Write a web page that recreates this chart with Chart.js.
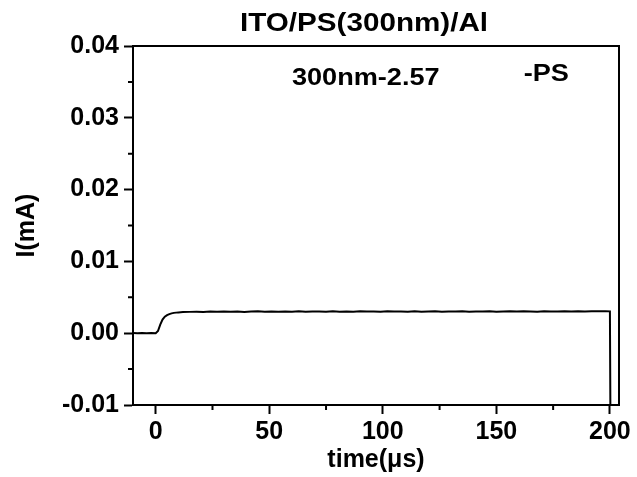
<!DOCTYPE html>
<html>
<head>
<meta charset="utf-8">
<script src="https://cdn.jsdelivr.net/npm/chart.js@4/dist/chart.umd.min.js"></script>
<style>
	html, body { margin: 0; padding: 0; background: #fff; }
	#wrap { width: 637px; height: 477px; }
</style>
</head>
<body>
<div id="wrap"><canvas id="ivChart" width="637" height="477"></canvas></div>
<script>
// time (us)
var timeData = [-10, -8, -6, -4, -2, 0, 1, 2, 3, 4, 5, 6, 7, 8, 10, 12, 15, 18, 21, 24, 27, 30,
	33, 36, 39, 42, 45, 48, 51, 54, 57, 60, 63, 66, 69, 72, 75, 78, 81, 84, 87, 90, 93, 96, 99,
	102, 105, 108, 111, 114, 117, 120, 123, 126, 129, 132, 135, 138, 141, 144, 147, 150, 153,
	156, 159, 162, 165, 168, 171, 174, 177, 180, 183, 186, 189, 192, 195, 198, 200, 200.2];

// current (mA)
var currentData = [0.00002, -0.00001, 0.00003, 0.00000, 0.00002, 0.00001, 0.00030, 0.00120, 0.00190,
	0.00230, 0.00252, 0.00266, 0.00276, 0.00283, 0.00290, 0.00294, 0.00297, 0.00300, 0.00296,
	0.00301, 0.00298, 0.00303, 0.00299, 0.00302, 0.00297, 0.00301, 0.00304, 0.00299, 0.00302,
	0.00298, 0.00303, 0.00300, 0.00305, 0.00299, 0.00302, 0.00301, 0.00298, 0.00304, 0.00300,
	0.00303, 0.00299, 0.00305, 0.00301, 0.00302, 0.00298, 0.00304, 0.00301, 0.00303, 0.00300,
	0.00305, 0.00299, 0.00302, 0.00304, 0.00300, 0.00303, 0.00301, 0.00305, 0.00299, 0.00303,
	0.00302, 0.00304, 0.00300, 0.00303, 0.00305, 0.00301, 0.00304, 0.00302, 0.00300, 0.00305,
	0.00303, 0.00301, 0.00304, 0.00302, 0.00305, 0.00303, 0.00306, 0.00304, 0.00307, 0.00304, -0.0102];

var xTicks = [0, 50, 100, 150, 200];
var xMinorTicks = [25, 75, 125, 175];
var yTicks = [-0.01, 0.00, 0.01, 0.02, 0.03, 0.04];
var yMinorTicks = [-0.005, 0.005, 0.015, 0.025, 0.035];

var chartTitle = 'ITO/PS(300nm)/Al';
var notes = [
	{ text: '300nm-2.57', x: 92.5, y: 0.0355 },
	{ text: '-PS', x: 172, y: 0.0360 }
];

var FONT = "'Liberation Sans', Arial, sans-serif";

// 글자를 가로로 조금 늘려서 그림
function drawWideText(ctx, text, x, y, sx) {
	ctx.save();
	ctx.translate(x, y);
	ctx.scale(sx, 1);
	ctx.fillText(text, 0, 0);
	ctx.restore();
}

// 프레임, 보조 눈금, 제목, 주석
var framePlugin = {
	id: 'framePlugin',
	afterDraw: function(chart) {
		var ctx = chart.ctx;
		var area = chart.chartArea;
		var xs = chart.scales.x;
		var ys = chart.scales.y;

		ctx.save();
		ctx.strokeStyle = '#000';
		ctx.lineWidth = 2;
		ctx.strokeRect(area.left, area.top, area.right - area.left, area.bottom - area.top);

		ctx.beginPath();
		xMinorTicks.forEach(function(v) {
			var px = xs.getPixelForValue(v);
			ctx.moveTo(px, area.bottom);
			ctx.lineTo(px, area.bottom + 5);
		});
		yMinorTicks.forEach(function(v) {
			var py = ys.getPixelForValue(v);
			ctx.moveTo(area.left, py);
			ctx.lineTo(area.left - 5, py);
		});
		ctx.stroke();

		ctx.fillStyle = '#000';
		ctx.textAlign = 'center';
		ctx.textBaseline = 'middle';
		ctx.font = 'bold 26px ' + FONT;
		drawWideText(ctx, chartTitle, 364, 24, 1.14);

		ctx.font = 'bold 24px ' + FONT;
		notes.forEach(function(n) {
			drawWideText(ctx, n.text, xs.getPixelForValue(n.x), ys.getPixelForValue(n.y), 1.13);
		});
		ctx.restore();
	}
};

var ctx = document.getElementById('ivChart');

new Chart(ctx, {
	type: 'line',
	data: {
		datasets: [{
			data: timeData.map(function(t, i) { return { x: t, y: currentData[i] }; }),
			borderColor: '#000',
			borderWidth: 2,
			pointRadius: 0,
			tension: 0,
			fill: false
		}]
	},
	options: {
		responsive: false,
		animation: false,
		layout: {
			padding: { left: 0, right: 18, top: 46, bottom: 0 }
		},
		plugins: {
			legend: { display: false },
			title: { display: false },
			tooltip: { enabled: false }
		},
		scales: {
			x: {
				type: 'linear',
				min: -10,
				max: 204,
				afterBuildTicks: function(scale) {
					scale.ticks = xTicks.map(function(v) { return { value: v }; });
				},
				afterFit: function(scale) { scale.height = 72; },
				grid: { drawOnChartArea: false, drawTicks: true, tickLength: 9, tickColor: '#000', tickWidth: 2 },
				border: { display: true, color: '#000', width: 2 },
				ticks: {
					color: '#000',
					padding: 3,
					maxRotation: 0,
					font: { family: FONT, size: 25, weight: 'bold' }
				},
				title: {
					display: true,
					text: 'time(μs)',
					color: '#000',
					padding: 2,
					font: { family: FONT, size: 25, weight: 'bold' }
				}
			},
			y: {
				type: 'linear',
				min: -0.01,
				max: 0.04,
				afterBuildTicks: function(scale) {
					scale.ticks = yTicks.map(function(v) { return { value: v }; });
				},
				afterFit: function(scale) { scale.width = 133; },
				grid: { drawOnChartArea: false, drawTicks: true, tickLength: 9, tickColor: '#000', tickWidth: 2 },
				border: { display: true, color: '#000', width: 2 },
				ticks: {
					color: '#000',
					padding: 5,
					font: { family: FONT, size: 25, weight: 'bold' },
					callback: function(v) { return v.toFixed(2); }
				},
				title: {
					display: true,
					text: 'I(mA)',
					color: '#000',
					padding: 12,
					font: { family: FONT, size: 25, weight: 'bold' }
				}
			}
		}
	},
	plugins: [framePlugin]
});
</script>
</body>
</html>
